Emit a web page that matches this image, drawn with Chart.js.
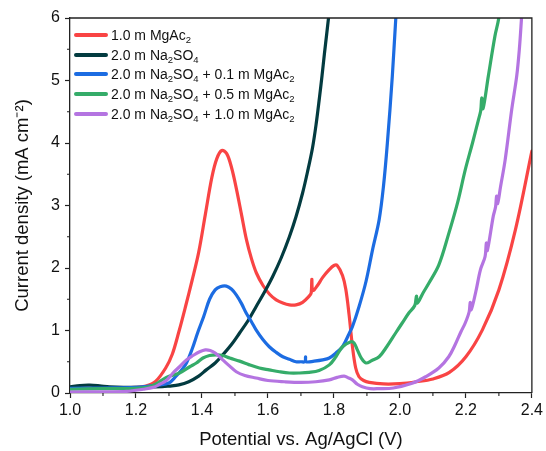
<!DOCTYPE html>
<html>
<head>
<meta charset="utf-8">
<script src="https://cdn.jsdelivr.net/npm/chart.js@4/dist/chart.umd.min.js"></script>
<style>
    html, body { margin: 0; padding: 0; background: #fff; }
    #wrap { position: relative; width: 546px; height: 451px; }
    #legend { position: absolute; left: 74px; top: 25px; font: 14px "Liberation Sans", Arial, sans-serif; color: #111; }
    .row { display: flex; align-items: center; height: 19.8px; white-space: nowrap; }
    .sw { width: 34px; height: 4px; border-radius: 2px; margin-right: 3px; }
    sub { font-size: 9.5px; vertical-align: -3px; line-height: 0; }
</style>
</head>
<body>
<div id="wrap">
    <canvas id="lsvChart" width="546" height="451"></canvas>
    <div id="legend"></div>
</div>
<script>
// potential (V vs Ag/AgCl) and current density (mA cm-2)
const mgac10V = [1.00, 1.10, 1.20, 1.23, 1.26, 1.29, 1.31, 1.33, 1.35, 1.37, 1.39, 1.41, 1.43, 1.445, 1.46, 1.475, 1.49, 1.505, 1.52, 1.535, 1.55, 1.565, 1.585, 1.605, 1.625, 1.645, 1.665, 1.685, 1.705, 1.725, 1.731, 1.733, 1.736, 1.75, 1.766, 1.785, 1.80, 1.81, 1.826, 1.836, 1.846, 1.856, 1.866, 1.876, 1.89, 1.907, 1.95, 2.00, 2.05, 2.10, 2.15, 2.20, 2.25, 2.30, 2.35, 2.40];
const mgac10J = [0.08, 0.08, 0.09, 0.11, 0.19, 0.40, 0.62, 0.98, 1.38, 1.80, 2.25, 2.85, 3.45, 3.75, 3.88, 3.83, 3.60, 3.25, 2.85, 2.45, 2.15, 1.92, 1.72, 1.58, 1.49, 1.44, 1.41, 1.41, 1.45, 1.55, 1.60, 1.82, 1.64, 1.72, 1.85, 1.97, 2.04, 2.04, 1.88, 1.66, 1.25, 0.75, 0.40, 0.26, 0.20, 0.17, 0.145, 0.15, 0.18, 0.225, 0.33, 0.58, 1.01, 1.65, 2.61, 3.87];

const na2so4V = [1.00, 1.03, 1.06, 1.09, 1.12, 1.20, 1.28, 1.30, 1.33, 1.36, 1.39, 1.413, 1.44, 1.463, 1.49, 1.514, 1.54, 1.564, 1.59, 1.614, 1.64, 1.665, 1.685, 1.705, 1.72, 1.735, 1.746, 1.756, 1.764, 1.771, 1.778, 1.784, 1.79];
const na2so4J = [0.10, 0.12, 0.125, 0.115, 0.10, 0.09, 0.10, 0.11, 0.13, 0.18, 0.27, 0.37, 0.48, 0.61, 0.78, 0.96, 1.16, 1.38, 1.62, 1.86, 2.16, 2.50, 2.82, 3.20, 3.54, 3.92, 4.30, 4.72, 5.08, 5.42, 5.74, 6.02, 6.30];

const mix01V = [1.00, 1.10, 1.20, 1.27, 1.30, 1.32, 1.34, 1.353, 1.37, 1.388, 1.405, 1.423, 1.44, 1.455, 1.474, 1.49, 1.504, 1.52, 1.534, 1.55, 1.564, 1.584, 1.604, 1.625, 1.645, 1.665, 1.685, 1.70, 1.712, 1.714, 1.716, 1.74, 1.766, 1.786, 1.806, 1.826, 1.846, 1.856, 1.876, 1.897, 1.917, 1.937, 1.95, 1.962, 1.977, 1.987, 1.992];
const mix01J = [0.075, 0.08, 0.09, 0.13, 0.16, 0.26, 0.38, 0.48, 0.70, 0.98, 1.22, 1.50, 1.65, 1.70, 1.71, 1.66, 1.57, 1.43, 1.28, 1.14, 1.01, 0.86, 0.74, 0.65, 0.58, 0.54, 0.50, 0.50, 0.50, 0.58, 0.50, 0.51, 0.53, 0.56, 0.64, 0.74, 0.95, 1.06, 1.38, 1.78, 2.29, 2.77, 3.30, 4.00, 5.07, 5.95, 6.30];

const mix05V = [1.00, 1.10, 1.20, 1.24, 1.262, 1.292, 1.332, 1.363, 1.383, 1.403, 1.423, 1.443, 1.463, 1.484, 1.514, 1.544, 1.574, 1.604, 1.635, 1.665, 1.695, 1.725, 1.755, 1.786, 1.806, 1.826, 1.851, 1.861, 1.871, 1.884, 1.897, 1.915, 1.937, 1.96, 1.987, 2.007, 2.027, 2.045, 2.05, 2.053, 2.07, 2.088, 2.118, 2.148, 2.175, 2.198, 2.22, 2.238, 2.245, 2.248, 2.252, 2.268, 2.288, 2.299, 2.305];
const mix05J = [0.06, 0.07, 0.075, 0.10, 0.15, 0.25, 0.32, 0.42, 0.48, 0.56, 0.60, 0.61, 0.60, 0.56, 0.51, 0.45, 0.40, 0.37, 0.34, 0.32, 0.32, 0.33, 0.36, 0.45, 0.58, 0.74, 0.82, 0.80, 0.69, 0.55, 0.48, 0.52, 0.58, 0.74, 0.96, 1.12, 1.28, 1.40, 1.55, 1.44, 1.60, 1.76, 2.05, 2.55, 3.05, 3.57, 4.00, 4.37, 4.52, 4.72, 4.55, 5.07, 5.71, 5.98, 6.30];

const mix10V = [1.00, 1.10, 1.171, 1.222, 1.252, 1.272, 1.292, 1.312, 1.332, 1.353, 1.373, 1.393, 1.41, 1.425, 1.44, 1.463, 1.484, 1.504, 1.53, 1.564, 1.60, 1.65, 1.70, 1.745, 1.786, 1.81, 1.831, 1.845, 1.856, 1.871, 1.886, 1.91, 1.937, 1.98, 2.037, 2.078, 2.118, 2.148, 2.168, 2.185, 2.198, 2.21, 2.213, 2.216, 2.23, 2.244, 2.258, 2.262, 2.265, 2.283, 2.29, 2.293, 2.296, 2.305, 2.319, 2.339, 2.354, 2.362, 2.368, 2.372];
const mix10J = [0.015, 0.02, 0.025, 0.06, 0.09, 0.14, 0.20, 0.32, 0.42, 0.53, 0.60, 0.66, 0.69, 0.68, 0.64, 0.53, 0.43, 0.34, 0.28, 0.24, 0.20, 0.18, 0.17, 0.18, 0.21, 0.25, 0.27, 0.24, 0.21, 0.14, 0.10, 0.07, 0.07, 0.08, 0.155, 0.26, 0.40, 0.58, 0.78, 0.98, 1.12, 1.30, 1.45, 1.33, 1.62, 1.97, 2.18, 2.40, 2.28, 2.83, 2.98, 3.15, 3.03, 3.30, 3.73, 4.54, 5.07, 5.50, 5.95, 6.30];

const seriesLabels = ['1.0 m MgAc2', '2.0 m Na2SO4', '2.0 m Na2SO4 + 0.1 m MgAc2', '2.0 m Na2SO4 + 0.5 m MgAc2', '2.0 m Na2SO4 + 1.0 m MgAc2'];
const seriesColors = ['#f94444', '#033b40', '#1c6ce2', '#35ac69', '#b474e1'];
const xMinorTicks = [1.1, 1.3, 1.5, 1.7, 1.9, 2.1, 2.3];
const yMinorTicks = [0.5, 1.5, 2.5, 3.5, 4.5, 5.5];

(function () {
    const FONT = '"Liberation Sans", Arial, sans-serif';
    const AXIS = '#222';

    function toPoints(xs, ys) {
        return xs.map((x, i) => ({ x: x, y: ys[i] }));
    }

    const seriesData = [
        toPoints(mgac10V, mgac10J),
        toPoints(na2so4V, na2so4J),
        toPoints(mix01V, mix01J),
        toPoints(mix05V, mix05J),
        toPoints(mix10V, mix10J)
    ];

    // frame on top/right plus the minor tick marks Origin draws
    const framePlugin = {
        id: 'frame',
        afterDraw(chart) {
            const { ctx, chartArea: a, scales } = chart;
            ctx.save();
            ctx.strokeStyle = AXIS;
            ctx.lineWidth = 1.3;
            ctx.beginPath();
            ctx.moveTo(a.left, a.top);
            ctx.lineTo(a.right, a.top);
            ctx.lineTo(a.right, a.bottom);
            ctx.stroke();

            ctx.lineWidth = 1.1;
            ctx.beginPath();
            xMinorTicks.forEach((v) => {
                const px = scales.x.getPixelForValue(v);
                ctx.moveTo(px, a.bottom);
                ctx.lineTo(px, a.bottom + 3);
            });
            yMinorTicks.forEach((v) => {
                const py = scales.y.getPixelForValue(v);
                ctx.moveTo(a.left, py);
                ctx.lineTo(a.left - 3, py);
            });
            ctx.stroke();
            ctx.restore();
        }
    };

    const chart = new Chart(document.getElementById('lsvChart'), {
        type: 'line',
        data: {
            datasets: seriesData.map((pts, i) => ({
                label: seriesLabels[i],
                data: pts,
                borderColor: seriesColors[i],
                backgroundColor: seriesColors[i],
                borderWidth: 3.2,
                pointRadius: 0,
                borderCapStyle: 'round',
                borderJoinStyle: 'round',
                tension: 0.35,
                order: seriesLabels.length - i
            }))
        },
        options: {
            responsive: false,
            animation: false,
            parsing: false,
            layout: { padding: { top: 18, right: 13, left: 0, bottom: 0 } },
            plugins: {
                legend: { display: false },
                tooltip: { enabled: false }
            },
            scales: {
                x: {
                    type: 'linear',
                    min: 1.0,
                    max: 2.4,
                    afterFit(scale) { scale.height = 58; },
                    ticks: {
                        stepSize: 0.2,
                        color: '#111',
                        padding: 3,
                        font: { family: FONT, size: 16 },
                        callback: (v) => Number(v).toFixed(1)
                    },
                    grid: { drawOnChartArea: false, tickLength: 5, tickColor: AXIS, tickWidth: 1.2 },
                    border: { display: true, color: AXIS, width: 1.3 },
                    title: {
                        display: true,
                        text: 'Potential vs. Ag/AgCl (V)',
                        color: '#111',
                        font: { family: FONT, size: 18.5 },
                        padding: { top: 0, bottom: 0 }
                    }
                },
                y: {
                    type: 'linear',
                    min: 0,
                    max: 6,
                    afterFit(scale) { scale.width = 70; },
                    ticks: {
                        stepSize: 1,
                        color: '#111',
                        padding: 5,
                        font: { family: FONT, size: 16 },
                        callback: (v) => String(Math.round(v))
                    },
                    grid: { drawOnChartArea: false, tickLength: 5, tickColor: AXIS, tickWidth: 1.2 },
                    border: { display: true, color: AXIS, width: 1.3 },
                    title: {
                        display: true,
                        text: 'Current density (mA cm\u207B\u00B2)',
                        color: '#111',
                        font: { family: FONT, size: 18.5 },
                        padding: { top: 12, bottom: 0 }
                    }
                }
            }
        },
        plugins: [framePlugin]
    });

    // legend with chemical subscripts, built from the datasets
    const legend = document.getElementById('legend');
    chart.data.datasets.forEach((ds) => {
        const row = document.createElement('div');
        row.className = 'row';
        const sw = document.createElement('span');
        sw.className = 'sw';
        sw.style.background = ds.borderColor;
        const txt = document.createElement('span');
        txt.innerHTML = ds.label.replace(/([A-Za-z])(\d)/g, '$1<sub>$2</sub>');
        row.appendChild(sw);
        row.appendChild(txt);
        legend.appendChild(row);
    });
})();
</script>
</body>
</html>
